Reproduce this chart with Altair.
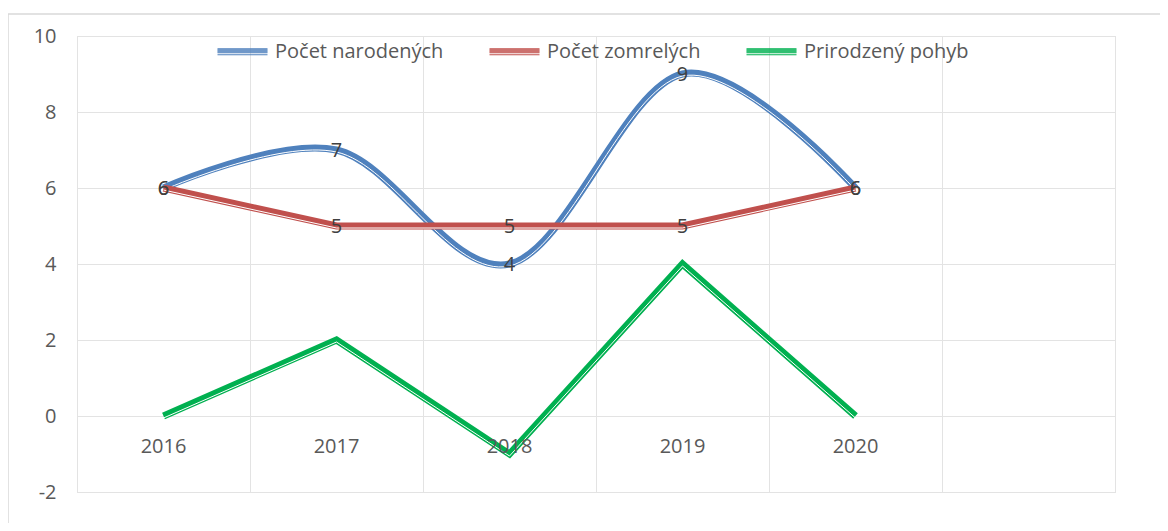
import altair as alt
import pandas as pd

years = ["2016", "2017", "2018", "2019", "2020"]
born = [6, 7, 4, 9, 6]
died = [6, 5, 5, 5, 6]
natural = [0, 2, -1, 4, 0]
series_names = ["Počet narodených", "Počet zomrelých", "Prirodzený pohyb"]
series_colors = ["#4F81BD", "#C0504D", "#00B050"]
y_ticks = [-2, 0, 2, 4, 6, 8, 10]
n_slots = 6  # category slots on the axis (last one empty)

FONT = "Open Sans"
TXT = "#595959"
GRID = "#e3e3e3"

rows = []
for name, vals in zip(series_names, [born, died, natural]):
    for i, (yr, v) in enumerate(zip(years, vals)):
        rows.append({"series": name, "year": yr, "pos": i + 0.5, "value": v})
df = pd.DataFrame(rows)
years_df = pd.DataFrame({"year": years, "pos": [i + 0.5 for i in range(len(years))], "value": [0] * len(years)})

W, H = 1038, 456

x_enc = alt.X("pos:Q", scale=alt.Scale(domain=[0, n_slots], nice=False, zero=False),
              axis=alt.Axis(values=list(range(n_slots + 1)), labels=False, ticks=False, domain=False,
                            grid=True, gridColor=GRID, title=None))
y_enc = alt.Y("value:Q", scale=alt.Scale(domain=[-2, 10], nice=False),
              axis=alt.Axis(values=y_ticks, ticks=False, domain=False, grid=True, gridColor=GRID,
                            labelExpr="toString(datum.value)",
                            labelFontSize=20, labelFont=FONT, labelColor=TXT, labelPadding=21, title=None))

color_scale = alt.Scale(domain=series_names, range=series_colors)
legend = alt.Legend(
    title=None, orient="none", legendX=140, legendY=-10, direction="horizontal", columns=3,
    symbolType="M-1,-0.12H1M-1,-0.08H1M-1,-0.04H1M-1,0H1M-1,0.04H1M-1,0.12H1",
    symbolSize=2500, symbolStrokeWidth=1, labelFontSize=20, labelFont=FONT, labelColor=TXT,
    labelOffset=7, columnPadding=43, padding=0, labelLimit=400,
)

base = alt.Chart(df)

border = alt.Chart(pd.DataFrame({"a": [0]})).mark_rect(
    fill="transparent", stroke="#d9d9d9", strokeWidth=1.5
).encode(x=alt.value(-69), x2=alt.value(W + 200), y=alt.value(-22), y2=alt.value(H + 200))

layers = [border]
interps = ["cardinal", "linear", "linear"]
for name, interp in zip(series_names, interps):
    sub = base.transform_filter(alt.datum.series == name)
    kw = {"interpolate": interp}
    if interp == "cardinal":
        kw["tension"] = 0
    thick = sub.mark_line(strokeWidth=7, **kw).encode(
        x=x_enc, y=y_enc,
        color=alt.Color("series:N", scale=color_scale, legend=legend),
    )
    gap = sub.mark_line(strokeWidth=1, color="white", yOffset=2, **kw).encode(x=x_enc, y=y_enc)
    layers += [thick, gap]

for name in [series_names[1], series_names[0]]:
    lab = base.transform_filter(alt.datum.series == name).mark_text(
        fontSize=20, font=FONT, color="#404040", baseline="middle", align="center", dy=1
    ).encode(x=x_enc, y=y_enc, text="value:Q")
    layers.append(lab)

year_labels = alt.Chart(years_df).mark_text(
    fontSize=20, font=FONT, color=TXT, baseline="middle", align="center", dy=31
).encode(x=x_enc, y=y_enc, text="year:N")
layers.append(year_labels)

chart = alt.layer(*layers).properties(
    width=W, height=H,
    autosize=alt.AutoSizeParams(type="none"),
    padding={"left": 69, "top": 28, "right": 45, "bottom": 31},
).configure_view(stroke=None).configure(background="white")

chart.save("out.html", embed_options={"renderer": "svg", "actions": False})
